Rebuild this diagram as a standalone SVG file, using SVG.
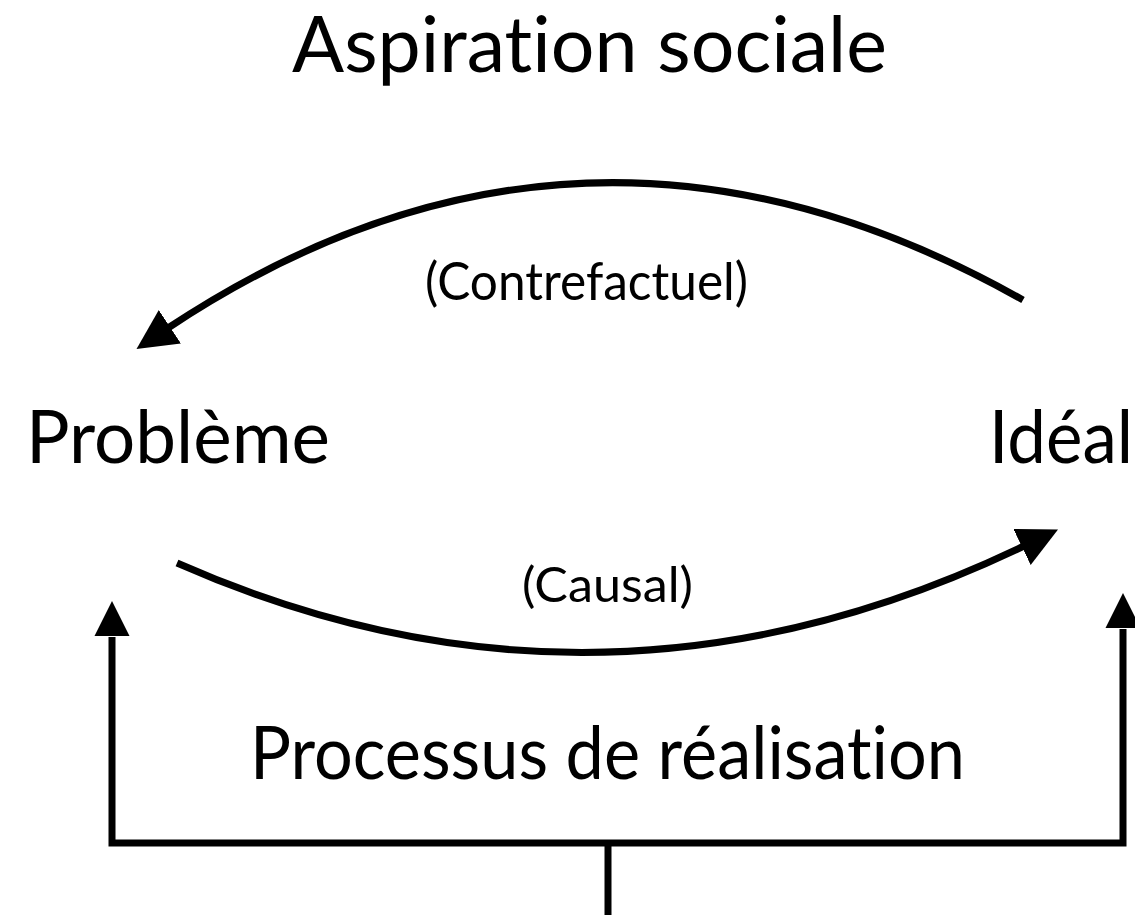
<svg xmlns="http://www.w3.org/2000/svg" width="1135" height="915" viewBox="0 0 1135 915">
<style>
.t{font-family:"Lato","Liberation Sans",sans-serif;fill:#000;font-variant-ligatures:none;font-feature-settings:"liga" 0,"clig" 0}
.c{fill:none;stroke:#000;stroke-width:7}
</style>
<defs>
<marker id="ah" markerUnits="userSpaceOnUse" markerWidth="40" markerHeight="40" viewBox="0 -18 36 36" refX="2" refY="0" orient="auto">
<path d="M0,-18 L36,0 L0,18 Z" fill="#000"/>
</marker>
</defs>
<rect width="1135" height="915" fill="#fff"/>
<g id="title"><text class="t" x="292" y="72" font-size="78" textLength="595" lengthAdjust="spacingAndGlyphs">Aspiration sociale</text></g>
<g id="probleme"><text class="t" x="26" y="463" font-size="74" textLength="304" lengthAdjust="spacingAndGlyphs">Problème</text></g>
<g id="ideal"><text class="t" x="989" y="463" font-size="74" textLength="144" lengthAdjust="spacingAndGlyphs">Idéal</text></g>
<g id="processus"><text class="t" x="250" y="779" font-size="74" textLength="715" lengthAdjust="spacingAndGlyphs">Processus de réalisation</text></g>
<g id="connectors">
<path class="c" d="M1023,300 Q584,52 168,328" marker-end="url(#ah)"/>
<path class="c" d="M177,563 Q600,750 1024,546" marker-end="url(#ah)"/>
<path class="c" d="M112,637 V843 H1123 V629" stroke-linejoin="miter"/>
<path d="M112,601 L94.5,636 L129.5,636 Z" fill="#000"/>
<path d="M1123,593 L1105.5,628 L1140.5,628 Z" fill="#000"/>
<path class="c" d="M608,843 V915"/>
<text class="t" x="425" y="300" font-size="52" textLength="323" lengthAdjust="spacingAndGlyphs">(Contrefactuel)</text>
<text class="t" x="522" y="602" font-size="48" textLength="171" lengthAdjust="spacingAndGlyphs">(Causal)</text>
</g>
</svg>
